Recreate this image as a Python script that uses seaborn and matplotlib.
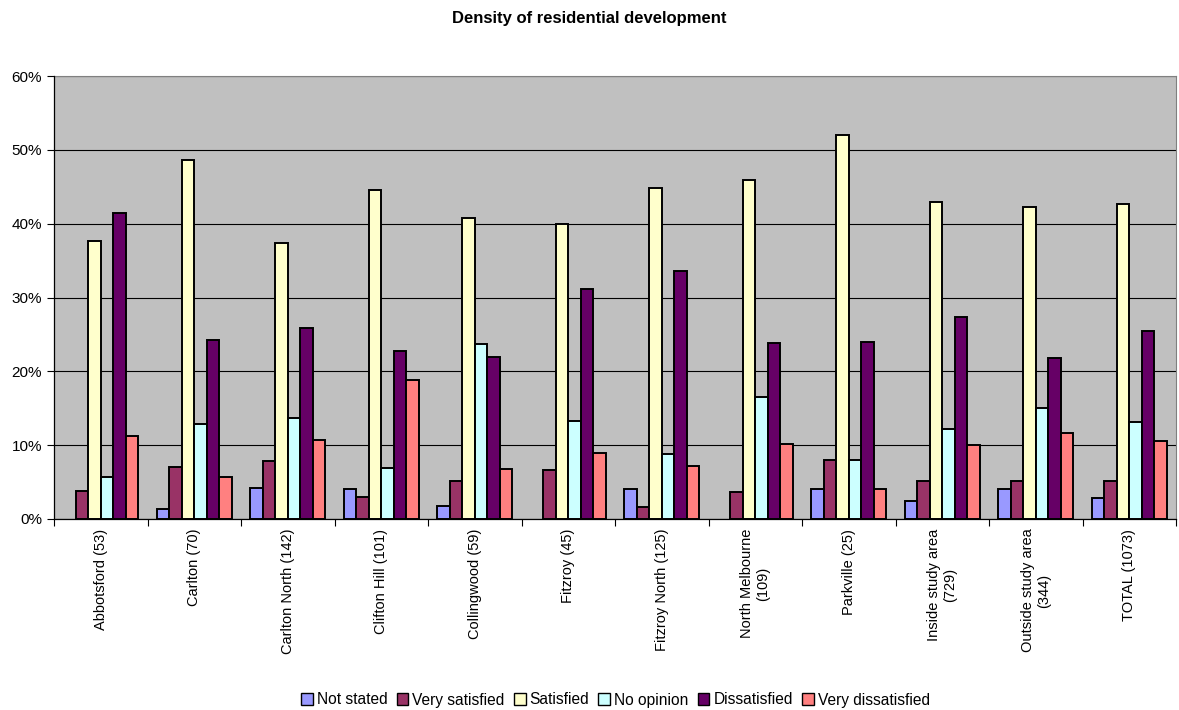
import matplotlib
matplotlib.use("Agg")
import matplotlib.pyplot as plt
import seaborn as sns
import pandas as pd
import numpy as np
from matplotlib.patches import Patch
from matplotlib.ticker import FixedLocator, PercentFormatter

areas = ["Abbotsford (53)", "Carlton (70)", "Carlton North (142)", "Clifton Hill (101)",
         "Collingwood (59)", "Fitzroy (45)", "Fitzroy North (125)", "North Melbourne\n(109)",
         "Parkville (25)", "Inside study area\n(729)", "Outside study area\n(344)", "TOTAL (1073)"]
responses = ["Not stated", "Very satisfied", "Satisfied", "No opinion",
             "Dissatisfied", "Very dissatisfied"]

not_stated        = [0.0, 1.4, 4.2, 4.0, 1.7, 0.0, 4.0, 0.0, 4.0, 2.5, 4.1, 2.9]
very_satisfied    = [3.8, 7.1, 7.9, 3.0, 5.1, 6.7, 1.6, 3.7, 8.0, 5.1, 5.2, 5.1]
satisfied         = [37.7, 48.6, 37.4, 44.6, 40.7, 40.0, 44.8, 45.9, 52.0, 43.0, 42.2, 42.7]
no_opinion        = [5.7, 12.9, 13.7, 6.9, 23.7, 13.3, 8.8, 16.5, 8.0, 12.2, 15.1, 13.2]
dissatisfied      = [41.5, 24.3, 25.9, 22.8, 22.0, 31.1, 33.6, 23.9, 24.0, 27.3, 21.8, 25.5]
very_dissatisfied = [11.3, 5.7, 10.7, 18.8, 6.8, 8.9, 7.2, 10.1, 4.0, 10.0, 11.6, 10.5]

colors = ["#9999FF", "#993366", "#FFFFCC", "#CCFFFF", "#660066", "#FF8080"]

series = [not_stated, very_satisfied, satisfied, no_opinion, dissatisfied, very_dissatisfied]
rows = []
for resp, vals in zip(responses, series):
    for area, v in zip(areas, vals):
        rows.append({"area": area, "response": resp, "pct": v})
df = pd.DataFrame(rows)

plt.rcParams["font.family"] = ["Liberation Sans", "DejaVu Sans"]

fig = plt.figure(figsize=(11.79, 7.10), dpi=100)
ax = fig.add_axes([54 / 1179, 1 - 519 / 710, (1176 - 54) / 1179, (519 - 76) / 710])
ax.set_facecolor("#C0C0C0")

sns.barplot(data=df, x="area", y="pct", hue="response", order=areas,
            hue_order=responses, palette=colors, saturation=1, edgecolor="black",
            linewidth=1.4, width=0.8, ax=ax, zorder=3, legend=False)

# empty categories get no outline
for patch in ax.patches:
    if patch.get_height() == 0:
        patch.set_linewidth(0)

ax.set_ylim(0, 60)
ax.set_xlim(-0.5, len(areas) - 0.5)
ax.yaxis.set_major_locator(FixedLocator(np.arange(0, 61, 10)))
ax.yaxis.set_major_formatter(PercentFormatter(decimals=0))
ax.grid(axis="y", color="black", linewidth=0.8, zorder=0)
ax.set_axisbelow(True)

ax.set_xticks(range(len(areas)))
ax.set_xticklabels(areas, rotation=90, fontsize=10.5, ha="center", va="top",
                   multialignment="center")
ax.tick_params(axis="x", which="major", length=0, pad=7)
ax.set_xticks(np.arange(-0.5, len(areas), 1.0), minor=True)
ax.tick_params(axis="x", which="minor", length=5, color="black", width=0.8)
ax.tick_params(axis="y", labelsize=11, length=5, width=0.8, color="black")

ax.set_xlabel("")
ax.set_ylabel("")
for side in ["left", "bottom"]:
    ax.spines[side].set_color("black")
    ax.spines[side].set_linewidth(0.9)
    ax.spines[side].set_zorder(5)
for side in ["top", "right"]:
    ax.spines[side].set_color("#808080")
    ax.spines[side].set_linewidth(0.8)

fig.text(0.5, 1 - 18 / 710, "Density of residential development", ha="center",
         va="center", fontsize=12, fontweight="bold")

handles = [Patch(facecolor=c, edgecolor="black", linewidth=1.0) for c in colors]
leg = fig.legend(handles, responses, loc="center", bbox_to_anchor=(0.522, 1 - 700 / 710),
                 ncol=6, frameon=False, fontsize=11.2, handlelength=0.75,
                 handleheight=0.75, handletextpad=0.25, columnspacing=0.6,
                 borderaxespad=0)
# keep all legend entries on one common line
leg._legend_handle_box.align = "top"

fig.savefig("out.png", dpi=100, facecolor="white")
